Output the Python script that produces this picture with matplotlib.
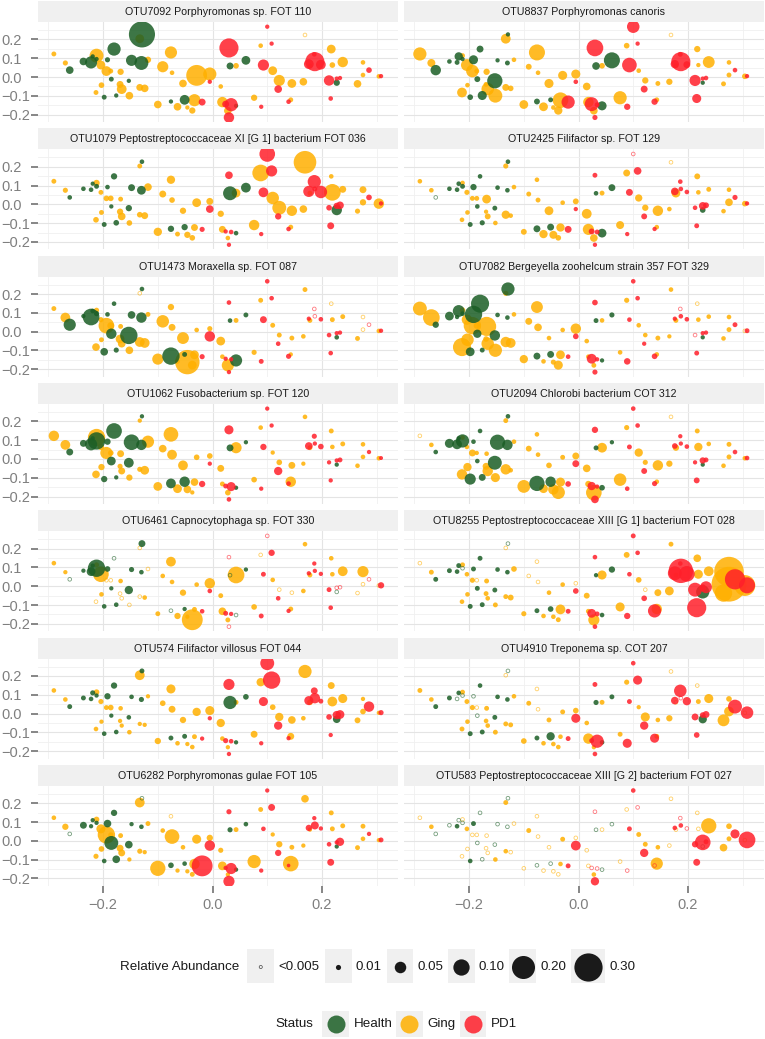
import matplotlib
matplotlib.use("Agg")
import matplotlib.pyplot as plt
import numpy as np

plt.rcParams['font.family'] = ['Liberation Sans', 'DejaVu Sans']

# ordination coordinates, same samples in every panel
health_x = [-0.261,-0.236,-0.222,-0.219,-0.212,-0.192,-0.180,-0.148,-0.130,-0.129,-0.185,-0.153,-0.198,-0.176,-0.076,-0.051,0.032,0.061,0.043,0.227]
health_y = [0.037,0.083,0.078,0.110,0.096,0.092,0.149,0.089,0.075,0.227,-0.011,-0.020,-0.107,-0.098,-0.130,-0.121,0.059,0.089,-0.153,-0.030]
ging_x = [-0.290,-0.269,-0.212,-0.204,-0.194,-0.186,-0.168,-0.133,-0.213,-0.203,-0.169,-0.166,-0.152,-0.133,-0.124,-0.118,-0.076,-0.091,-0.074,-0.054,
          -0.100,-0.064,-0.046,-0.037,-0.033,-0.029,-0.005,0.015,0.018,0.028,0.043,0.088,0.076,0.110,0.122,0.145,0.166,0.143,0.169,0.217,0.219,0.238,0.265,0.275,0.275,0.304,0.178]
ging_y = [0.123,0.075,0.114,0.064,0.032,0.032,0.028,0.204,-0.082,-0.043,-0.039,-0.064,-0.099,-0.055,-0.060,0.092,0.131,0.055,0.023,-0.034,
          -0.146,-0.158,-0.162,-0.178,-0.123,0.009,0.016,-0.050,-0.133,-0.179,0.060,0.167,-0.110,0.034,-0.018,-0.034,-0.025,-0.121,0.224,0.149,0.064,0.080,-0.036,0.078,0.011,0.004,0.060]
pd1_x = [0.100,0.108,0.030,0.093,0.186,0.176,0.187,0.198,0.233,0.227,0.213,0.216,0.286,0.308,0.120,0.139,0.089,-0.019,-0.005,0.024,0.034,0.030]
pd1_y = [0.268,0.178,0.155,0.064,0.121,0.069,0.082,0.066,-0.005,-0.008,-0.018,-0.114,0.037,0.005,-0.064,-0.131,-0.158,-0.133,-0.025,-0.144,-0.147,-0.215]

titles = [
    "OTU7092 Porphyromonas sp. FOT 110", "OTU8837 Porphyromonas canoris",
    "OTU1079 Peptostreptococcaceae XI [G 1] bacterium FOT 036", "OTU2425 Filifactor sp. FOT 129",
    "OTU1473 Moraxella sp. FOT 087", "OTU7082 Bergeyella zoohelcum strain 357 FOT 329",
    "OTU1062 Fusobacterium sp. FOT 120", "OTU2094 Chlorobi bacterium COT 312",
    "OTU6461 Capnocytophaga sp. FOT 330", "OTU8255 Peptostreptococcaceae XIII [G 1] bacterium FOT 028",
    "OTU574 Filifactor villosus FOT 044", "OTU4910 Treponema sp. COT 207",
    "OTU6282 Porphyromonas gulae FOT 105", "OTU583 Peptostreptococcaceae XIII [G 2] bacterium FOT 027",
]

# relative abundance x 1000 for each panel, 0 means below 0.005 (open circle)
health_abund = [
    [22,22,56,7,7,10,66,47,73,257,9,7,9,7,7,36,18,29,7,15],
    [41,8,9,26,7,31,18,7,9,7,13,88,12,31,13,9,22,97,31,7],
    [8,8,8,7,9,8,15,18,29,8,7,15,9,12,15,15,73,36,8,41],
    [0,8,8,8,9,15,8,8,8,8,8,9,9,10,18,18,8,18,29,12],
    [56,7,105,8,10,8,8,22,41,8,41,114,22,10,114,9,8,9,56,8],
    [15,29,7,53,8,114,123,8,8,66,26,41,29,9,18,18,9,10,7,7],
    [18,18,56,7,114,15,92,92,41,7,29,36,15,7,36,41,18,7,7,7],
    [8,31,36,7,66,8,8,88,41,8,8,73,47,18,88,41,9,7,12,7],
    [0,7,29,7,114,12,0,10,8,18,7,26,8,8,0,7,0,7,0,0],
    [9,9,8,9,0,9,9,8,8,0,9,9,9,9,9,12,7,15,8,66],
    [9,9,8,10,7,15,15,8,10,9,7,8,8,8,9,9,66,12,7,22],
    [9,9,0,8,0,0,8,8,8,0,0,9,9,9,9,26,10,9,8,26],
    [0,18,7,7,7,22,15,7,8,0,73,22,8,22,12,8,10,8,7,7],
    [0,0,8,0,0,9,0,0,0,0,0,0,8,0,0,0,0,0,0,0],
]
ging_abund = [
    [9,10,73,29,36,9,15,29,9,12,18,36,22,18,22,15,56,47,8,22,22,22,7,15,56,164,66,8,41,22,12,8,15,29,47,29,22,9,0,29,12,41,22,8,8,8,8],
    [66,24,9,53,59,9,15,36,36,8,9,59,73,18,12,8,97,13,8,31,29,29,8,26,92,31,31,22,41,22,12,12,66,8,15,9,15,9,0,15,7,53,9,8,9,12,9],
    [9,10,15,9,12,12,9,9,12,9,15,22,12,12,18,22,26,18,12,15,26,9,15,12,18,29,18,15,18,8,29,105,41,59,73,41,22,9,193,8,105,18,10,18,15,41,9],
    [8,8,8,10,9,9,29,10,8,8,7,13,8,26,8,8,8,9,9,29,13,26,24,12,26,8,13,36,47,22,9,18,24,20,15,41,8,8,0,13,8,9,8,8,22,12,29],
    [9,36,10,10,92,18,9,0,22,9,29,22,22,36,36,9,15,59,18,53,47,9,224,29,29,8,10,29,8,56,9,9,10,9,9,9,8,7,9,0,9,9,9,0,0,8,9],
    [73,105,12,41,114,15,138,10,123,59,12,59,66,41,36,8,53,18,22,8,26,8,10,31,29,8,41,8,8,9,8,10,8,8,8,9,7,8,8,0,8,8,8,8,9,0,9],
    [41,36,114,15,56,12,18,7,22,15,10,18,15,10,29,56,81,22,36,36,29,29,22,7,22,12,12,18,9,12,47,8,12,7,12,18,7,41,8,9,8,9,8,8,8,8,9],
    [0,8,8,8,18,7,8,9,41,26,18,41,31,41,8,8,8,13,8,12,62,29,41,66,31,9,18,22,15,92,36,10,59,26,10,41,15,8,0,9,26,8,8,9,9,8,15],
    [8,7,10,92,0,0,8,0,0,8,0,0,0,0,8,0,36,8,8,15,9,15,7,164,9,8,41,9,22,9,105,0,12,8,0,0,8,9,8,8,8,36,0,47,0,0,9],
    [0,9,9,8,10,0,9,0,8,8,9,8,9,9,13,12,0,0,0,8,10,8,8,9,36,8,0,13,9,47,31,13,31,12,0,18,29,41,9,22,31,36,114,330,457,164,9],
    [8,8,12,10,9,12,8,36,8,7,7,7,8,7,7,7,31,12,18,15,15,8,7,8,9,26,31,26,8,7,9,26,18,12,26,22,8,18,66,18,36,31,13,7,12,7,12],
    [9,8,9,9,10,0,9,0,9,8,8,8,9,9,9,8,0,9,0,9,12,8,8,8,8,9,12,8,41,7,9,10,9,7,31,8,15,9,0,0,9,31,53,12,36,0,0],
    [8,15,12,31,114,10,9,36,10,12,18,18,7,10,7,9,0,8,81,8,88,7,7,9,41,31,15,10,29,7,9,9,66,7,15,9,7,92,22,9,9,9,9,9,8,7,7],
    [0,8,0,8,0,0,0,9,0,0,0,0,8,8,0,0,0,9,0,0,0,0,0,0,8,9,0,0,0,8,0,0,0,9,9,8,0,56,0,0,0,88,22,12,9,0,0],
]
pd1_abund = [
    [7,7,138,47,8,36,138,36,7,7,41,8,12,7,22,8,7,18,7,18,66,41],
    [59,7,105,81,9,26,138,18,8,7,47,31,8,7,18,15,15,66,8,73,9,10],
    [92,47,22,36,66,47,9,59,22,15,12,18,12,7,15,8,7,10,22,7,8,7],
    [0,22,9,18,8,22,8,8,13,22,8,9,10,7,13,7,7,18,7,13,9,7],
    [8,8,8,18,0,7,0,8,7,7,8,8,0,7,8,10,9,10,41,7,7,7],
    [8,8,12,8,0,7,8,8,7,7,0,9,9,9,7,12,16,8,12,36,7,10],
    [7,7,31,15,10,22,7,12,9,7,7,7,7,6,26,8,7,15,7,9,31,8],
    [8,8,15,9,7,12,7,8,9,15,7,13,8,8,13,10,8,12,18,26,7,22],
    [0,15,0,9,7,7,7,7,0,0,9,8,0,15,8,7,9,8,8,9,7,0],
    [9,8,8,8,8,73,224,92,53,18,73,138,154,97,12,66,15,9,12,29,9,8],
    [73,114,47,31,18,31,41,9,29,26,12,7,41,10,26,7,7,7,7,10,8,7],
    [8,31,9,9,59,22,0,26,18,12,18,12,73,59,26,31,31,9,31,9,66,8],
    [7,18,10,8,7,15,24,7,26,7,8,18,7,9,15,5,7,164,41,7,47,47],
    [8,0,0,9,0,8,8,0,9,92,15,18,31,105,26,0,0,9,36,0,0,26],
]

size_labels = ["<0.005", "0.01", "0.05", "0.10", "0.20", "0.30"]
size_values = [0, 10, 50, 100, 200, 300]
status_labels = ["Health", "Ging", "PD1"]

colors = {"Health": "#1b5e26", "Ging": "#ffb000", "PD1": "#ff1f2a"}
W, H = 765, 1039


def area(abund):
    # area scale in points^2, diameter in pixels goes with sqrt(abundance)
    d = 51.5 * np.sqrt(np.array(abund, dtype=float) / 1000.0)
    return (d * 0.72) ** 2


def draw_status(ax, xs, ys, abund, name):
    xs, ys, abund = np.array(xs), np.array(ys), np.array(abund)
    on = abund > 0
    ax.scatter(xs[on], ys[on], s=area(abund[on]), color=colors[name], alpha=0.85, linewidths=0, zorder=3)
    ax.scatter(xs[~on], ys[~on], s=7, facecolors="none", edgecolors=colors[name], alpha=0.6, linewidths=0.6, zorder=3)


def panel_axes(col, row):
    left = 38 + col * 366
    top = 22 + row * 127.3
    ax = fig.add_axes([left / W, 1 - (top + 100) / H, 360 / W, 100 / H])
    strip = fig.add_axes([left / W, 1 - top / H, 360 / W, 21 / H])
    strip.set_xticks([])
    strip.set_yticks([])
    strip.set_facecolor("#f0f0f0")
    for s in strip.spines.values():
        s.set_visible(False)
    return ax, strip


fig = plt.figure(figsize=(W / 100, H / 100), dpi=100)

for i, title in enumerate(titles):
    col = i % 2
    row = i // 2
    ax, strip = panel_axes(col, row)
    strip.text(0.5, 0.47, title, ha="center", va="center", fontsize=7.7, color="#1a1a1a", transform=strip.transAxes)

    draw_status(ax, ging_x, ging_y, ging_abund[i], "Ging")
    draw_status(ax, health_x, health_y, health_abund[i], "Health")
    draw_status(ax, pd1_x, pd1_y, pd1_abund[i], "PD1")

    ax.set_xlim(-0.319, 0.339)
    ax.set_ylim(-0.239, 0.293)
    ax.set_xticks([-0.2, 0.0, 0.2])
    ax.set_xticks([-0.3, -0.1, 0.1, 0.3], minor=True)
    ax.set_yticks([-0.2, -0.1, 0.0, 0.1, 0.2])
    ax.set_yticks([-0.15, -0.05, 0.05, 0.15, 0.25], minor=True)
    ax.set_xticklabels(["\u22120.2", "0.0", "0.2"])
    ax.set_yticklabels(["\u22120.2", "\u22120.1", "0.0", "0.1", "0.2"], ha="left")
    ax.grid(True, which="major", color="#e4e4e4", linewidth=0.8, zorder=0)
    ax.grid(True, which="minor", color="#f0f0f0", linewidth=0.6, zorder=0)
    ax.set_axisbelow(True)
    for s in ax.spines.values():
        s.set_visible(False)
    ax.tick_params(which="minor", length=0)
    ax.tick_params(which="major", length=5, width=1.1, color="#666666", labelcolor="#7f7f7f", labelsize=10.5)
    ax.tick_params(axis="y", which="major", pad=21.5)
    ax.tick_params(axis="x", which="major", pad=3.5)
    if col == 1:
        ax.tick_params(axis="y", which="major", left=False, labelleft=False)
    if row < 6:
        ax.tick_params(axis="x", which="major", bottom=False, labelbottom=False)

# legends, drawn in pixel coordinates
lg = fig.add_axes([0, 0, 1, 1])
lg.set_xlim(0, W)
lg.set_ylim(H, 0)
lg.axis("off")
lg.patch.set_alpha(0)

size_keys = [(247.5, 274), (325, 352), (387, 413.5), (448, 475), (509, 536.5), (571, 605)]
size_text = [278.6, 356, 418, 479, 541, 610]
lg.text(120, 967, "Relative Abundance", ha="left", va="center", fontsize=9.6, color="#1a1a1a")
for (x0, x1), tx, lab, v in zip(size_keys, size_text, size_labels, size_values):
    lg.fill_between([x0, x1], 949, 983, color="#f0f0f0", linewidth=0)
    xc = (x0 + x1) / 2
    if v == 0:
        lg.scatter([xc], [967], s=5, facecolors="none", edgecolors="#444444", linewidths=0.5)
    else:
        lg.scatter([xc], [967], s=area([v]), color="#1a1a1a", linewidths=0)
    lg.text(tx, 967, lab, ha="left", va="center", fontsize=9.6, color="#1a1a1a")

status_keys = [(322.5, 349), (396, 423), (460, 486)]
status_text = [354, 427.5, 491]
lg.text(275, 1024, "Status", ha="left", va="center", fontsize=9.6, color="#1a1a1a")
for (x0, x1), tx, lab in zip(status_keys, status_text, status_labels):
    lg.fill_between([x0, x1], 1011, 1037, color="#f0f0f0", linewidth=0)
    lg.scatter([(x0 + x1) / 2], [1024], s=(18 * 0.72) ** 2, color=colors[lab], alpha=0.85, linewidths=0)
    lg.text(tx, 1024, lab, ha="left", va="center", fontsize=9.6, color="#1a1a1a")

fig.savefig("out.png", dpi=100)
